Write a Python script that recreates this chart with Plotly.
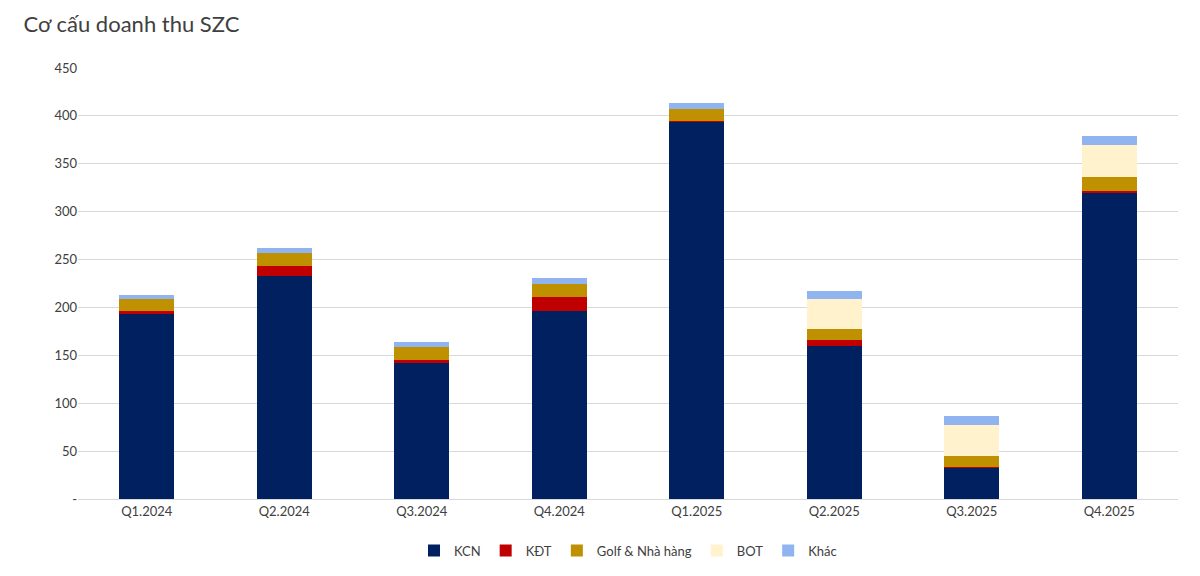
import plotly.graph_objects as go

quarters = ["Q1.2024", "Q2.2024", "Q3.2024", "Q4.2024", "Q1.2025", "Q2.2025", "Q3.2025", "Q4.2025"]
kcn = [194, 233, 142, 196, 394, 160, 33, 319]
kdt = [2, 10, 3, 15, 0.5, 6, 0.5, 3]
golf = [13, 14, 14, 14, 13, 11, 11, 14]
bot = [0, 0, 0, 0, 0, 32, 33, 34]
khac = [4, 5, 5, 6, 6, 8, 9, 9]

series = [
    ("KCN", kcn, "#002060"),
    ("KĐT", kdt, "#C00000"),
    ("Golf & Nhà hàng", golf, "#BF9000"),
    ("BOT", bot, "#FFF2CC"),
    ("Khác", khac, "#8FB4F0"),
]

fig = go.Figure()
for name, vals, color in series:
    fig.add_trace(go.Bar(x=quarters, y=vals, name=name, marker_color=color, marker_line_width=0))

fig.update_layout(
    barmode="stack",
    bargap=0.6,
    width=1200,
    height=576,
    paper_bgcolor="white",
    plot_bgcolor="white",
    font=dict(family="Lato", size=13, color="#404040"),
    title=dict(text="Cơ cấu doanh thu SZC", x=0.013, y=0.985, yanchor="top", font=dict(size=22, color="#404040")),
    margin=dict(l=70, r=30, t=60, b=85),
    legend=dict(orientation="h", traceorder="normal", x=0.5, xanchor="center", y=-0.085, yanchor="top",
                font=dict(size=13), itemwidth=30),
)
fig.update_yaxes(
    range=[0, 450], gridcolor="#D9D9D9", zeroline=False,
    tickvals=list(range(0, 451, 50)), ticktext=["-"] + [str(v) for v in range(50, 451, 50)],
)
fig.update_xaxes(showline=True, linecolor="#D9D9D9")

fig.write_html("out.html")
